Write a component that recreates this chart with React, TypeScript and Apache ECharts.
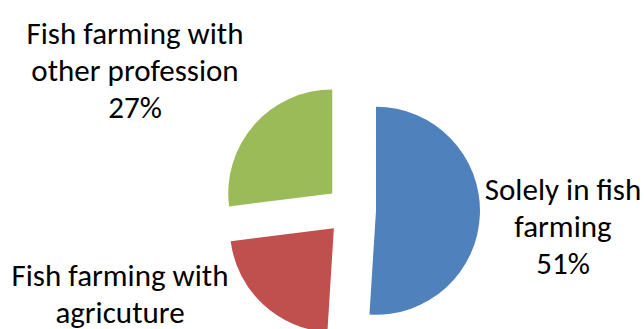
import React, { useEffect, useRef } from "react";
import * as echarts from "echarts";

const categories = ["Solely in fish\nfarming", "Fish farming with\nagricuture", "Fish farming with\nother profession"];
const values = [51, 22, 27];
const colors = ["#4F81BD", "#C0504D", "#9BBB59"];
const labelCenters = [
  [563, 226],
  [120, 312],
  [135, 70],
];

export default function App() {
  const ref = useRef<HTMLDivElement>(null);
  useEffect(() => {
    document.body.style.margin = "0";
    const chart = echarts.init(ref.current!, null, { renderer: "svg" });
    chart.setOption({
      animation: false,
      backgroundColor: "#ffffff",
      graphic: categories.map((name, i) => ({
        type: "text",
        x: labelCenters[i][0],
        y: labelCenters[i][1],
        silent: true,
        style: {
          text: `${name}\n${values[i]}%`,
          fontFamily: "Carlito, Lato, sans-serif",
          fontSize: 31,
          lineHeight: 37,
          fill: "#000000",
          align: "center",
          verticalAlign: "middle",
        },
      })),
      series: [
        {
          type: "pie",
          center: [351, 210],
          radius: [0, 104],
          startAngle: 90,
          clockwise: true,
          selectedMode: "multiple",
          selectedOffset: 25,
          silent: true,
          data: categories.map((name, i) => ({
            name,
            value: values[i],
            selected: true,
            itemStyle: { color: colors[i] },
          })),
          label: { show: false },
          labelLine: { show: false },
        },
      ],
    });
    return () => chart.dispose();
  }, []);
  return <div ref={ref} style={{ width: 644, height: 329 }} />;
}
